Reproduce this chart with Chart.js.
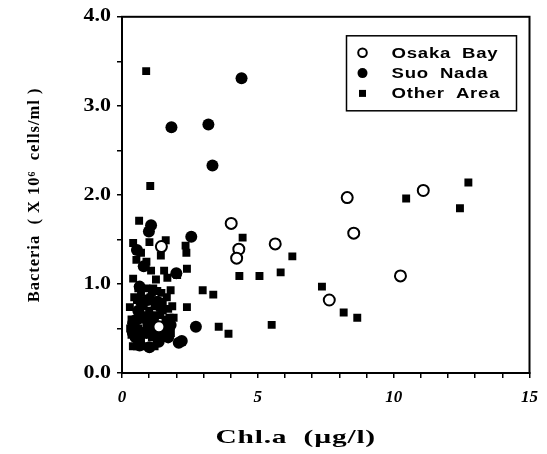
<!DOCTYPE html>
<html><head><meta charset="utf-8">
<script src="https://cdn.jsdelivr.net/npm/chart.js"></script>
<style>html,body{margin:0;padding:0;background:#fff}#wrap{width:547px;height:454px}</style>
</head><body><div id="wrap"><canvas id="c" width="547" height="454"></canvas></div>
<script>
// ---- data ----
const osakaX = [1.45, 4.02, 4.30, 4.22, 5.64, 8.29, 8.53, 11.09, 10.25, 7.63, 1.36];
const osakaY = [1.42, 1.68, 1.39, 1.29, 1.45, 1.97, 1.57, 2.05, 1.09, 0.82, 0.52];

const suoX = [1.82, 3.18, 3.33, 4.40, 2.55, 1.07, 0.99, 0.65, 2.72, 2.09, 2.20, 0.41, 0.65, 1.01, 1.49, 1.79, 0.60, 0.85, 1.05, 1.30, 1.15, 0.75, 1.35, 0.95, 1.60, 0.50, 0.55, 2.00, 0.80, 0.40, 0.70, 1.10, 1.40, 1.70, 0.90, 1.25, 0.55];
const suoY = [2.76, 2.79, 2.33, 3.31, 1.53, 1.66, 1.59, 0.97, 0.52, 0.34, 0.36, 0.56, 0.31, 0.29, 0.41, 0.54, 0.70, 0.62, 0.48, 0.80, 0.62, 0.45, 0.35, 0.82, 0.50, 0.40, 1.38, 1.12, 1.20, 0.45, 0.80, 0.55, 0.75, 0.40, 0.45, 0.42, 0.60];

const otherX = [0.89, 1.04, 12.75, 10.46, 12.44, 7.36, 8.16, 8.66, 4.44, 6.27, 4.32, 5.06, 5.84, 5.51, 2.97, 3.36, 2.39, 3.56, 3.92, 0.63, 0.41, 1.01, 1.61, 1.43, 0.53, 1.07, 1.55, 1.67, 2.03, 2.39, 0.41, 2.34, 2.37, 0.70, 0.90, 1.25, 0.29, 0.35, 0.70, 0.90, 1.10, 1.30, 1.79, 0.50, 0.80, 1.00, 1.20, 1.50, 1.70, 0.60, 0.90, 1.20, 1.60, 0.70, 1.10, 0.40, 1.80, 0.55, 1.40, 1.90, 0.45, 0.75, 1.05, 1.25, 1.45, 1.65, 0.35, 0.55, 0.85, 1.20, 1.50, 1.75, 0.60, 1.15, 0.95, 1.35, 0.30, 1.85];
const otherY = [3.39, 2.10, 2.14, 1.96, 1.85, 0.97, 0.68, 0.62, 1.52, 1.31, 1.09, 1.09, 1.13, 0.54, 0.93, 0.88, 0.74, 0.52, 0.44, 1.71, 1.46, 1.47, 1.49, 1.32, 1.27, 1.15, 1.15, 1.07, 1.10, 1.17, 1.06, 1.43, 1.35, 1.35, 1.25, 1.05, 0.74, 0.43, 0.90, 0.95, 0.90, 0.92, 0.93, 0.60, 0.75, 0.70, 0.75, 0.80, 0.72, 0.50, 0.55, 0.55, 0.60, 0.35, 0.40, 0.30, 0.45, 0.82, 0.65, 0.62, 0.85, 0.60, 0.85, 0.65, 0.90, 0.85, 0.60, 0.30, 0.30, 0.30, 0.70, 0.62, 0.95, 0.95, 0.65, 0.50, 0.50, 0.75];

const xTickLabels = ['0', '5', '10', '15'];
const yTickLabels = ['0.0', '1.0', '2.0', '3.0', '4.0'];
const seriesNames = ['Osaka Bay', 'Suo Nada', 'Other Area'];
const xTitle = 'Chl.a  (\u00B5g/l)';
const yTitle = 'Bacteria  ( X 10\u2076  cells/ml )';

const toPts = (xs, ys) => xs.map((x, i) => ({x: x, y: ys[i]}));
const SERIF = '"Liberation Serif", "Times New Roman", serif';

// Draw a scale's text a little wider (the reference uses a wide bold face).
function widen(scale, method, k, pivot, dx, spacing) {
  if (scale['_w_' + method]) return;
  const orig = scale[method];
  scale[method] = function (arg) {
    const c = this.ctx;
    c.save();
    const p = pivot(this);
    c.translate(p + dx, 0);
    c.scale(k, 1);
    c.translate(-p, 0);
    c.letterSpacing = spacing;
    orig.call(this, arg);
    c.restore();
  };
  scale['_w_' + method] = true;
}

const framePlugin = {
  id: 'frame',
  afterDraw(chart) {
    const {ctx, chartArea: a} = chart;
    ctx.save();
    ctx.strokeStyle = '#000';
    ctx.lineWidth = 2;
    ctx.strokeRect(a.left, a.top, a.right - a.left, a.bottom - a.top);
    ctx.restore();
  }
};

const boxLegend = {
  id: 'boxLegend',
  afterDraw(chart) {
    const {ctx, chartArea: a} = chart;
    const w = 170, h = 75, x0 = a.right - 13 - w, y0 = a.top + 19;
    ctx.save();
    ctx.fillStyle = '#fff';
    ctx.fillRect(x0, y0, w, h);
    ctx.lineWidth = 1.5;
    ctx.strokeStyle = '#000';
    ctx.strokeRect(x0, y0, w, h);
    chart.data.datasets.forEach((ds, i) => {
      const cy = y0 + 17 + i * 20.3, cx = x0 + 16;
      ctx.fillStyle = '#000';
      ctx.strokeStyle = '#000';
      if (ds.pointStyle === 'rect') {
        ctx.fillRect(cx - 3.5, cy - 3.5, 7, 7);
      } else if (ds.pointBackgroundColor === '#fff') {
        ctx.beginPath(); ctx.lineWidth = 2; ctx.arc(cx, cy, 4.3, 0, Math.PI * 2); ctx.stroke();
      } else {
        ctx.beginPath(); ctx.arc(cx, cy, 5, 0, Math.PI * 2); ctx.fill();
      }
      const tx = x0 + 45;
      ctx.save();
      ctx.translate(tx, 0);
      ctx.scale(1.28, 1);
      ctx.font = 'bold 14.5px "Liberation Sans", Arial, sans-serif';
      ctx.letterSpacing = '0.6px';
      ctx.wordSpacing = '4px';
      ctx.textBaseline = 'middle';
      ctx.textAlign = 'left';
      ctx.fillText(ds.label, 0, cy + 1);
      ctx.restore();
    });
    ctx.restore();
  }
};

new Chart(document.getElementById('c'), {
  type: 'scatter',
  data: {
    datasets: [
      {label: seriesNames[0], data: toPts(osakaX, osakaY), pointStyle: 'circle', pointRadius: 5.5,
       pointBackgroundColor: '#fff', pointBorderColor: '#000', pointBorderWidth: 2},
      {label: seriesNames[1], data: toPts(suoX, suoY), pointStyle: 'circle', pointRadius: 6,
       pointBackgroundColor: '#000', pointBorderColor: '#000', pointBorderWidth: 0},
      {label: seriesNames[2], data: toPts(otherX, otherY), pointStyle: 'rect', pointRadius: 5.6,
       pointBackgroundColor: '#000', pointBorderColor: '#000', pointBorderWidth: 0}
    ]
  },
  options: {
    responsive: false,
    animation: false,
    devicePixelRatio: 1,
    layout: {padding: {top: 16, right: 10, left: 0, bottom: 0}},
    plugins: {legend: {display: false}, tooltip: {enabled: false}},
    scales: {
      x: {
        type: 'linear', min: 0, max: 15,
        afterFit(s) {
          s.height = 81;
          widen(s, 'drawTitle', 1.55, t => (t.left + t.right) / 2, -30, '0.5px');
        },
        ticks: {
          stepSize: 1, autoSkip: false, maxRotation: 0, color: '#000', padding: 9,
          font: {family: SERIF, size: 17, weight: 'bold', style: 'italic'},
          callback: v => (Math.round(v) % 5 === 0 ? xTickLabels[Math.round(v) / 5] : '')
        },
        grid: {drawOnChartArea: false, drawTicks: true, tickLength: 5, color: '#000', lineWidth: 1.5},
        border: {display: true, color: '#000', width: 2},
        title: {display: true, text: xTitle, color: '#000',
                font: {family: SERIF, size: 19, weight: 'bold'}, padding: {top: 5, bottom: 5}}
      },
      y: {
        type: 'linear', min: 0, max: 4,
        afterFit(s) {
          s.width = 122;
          widen(s, 'drawLabels', 1.22, t => t.right - 11, 0, '0px');
          widen(s, 'drawTitle', 1.0, t => t.left, 0, '1px');
        },
        ticks: {
          stepSize: 0.5, autoSkip: false, color: '#000', padding: 6,
          font: {family: SERIF, size: 18, weight: 'bold'},
          callback: v => (Math.abs(v - Math.round(v)) < 1e-6 ? yTickLabels[Math.round(v)] : '')
        },
        grid: {drawOnChartArea: false, drawTicks: true, tickLength: 5, color: '#000', lineWidth: 1.5},
        border: {display: true, color: '#000', width: 2},
        title: {display: true, text: yTitle, color: '#000',
                font: {family: SERIF, size: 16.5, weight: 'bold'}, padding: {top: 25, bottom: 25}}
      }
    }
  },
  plugins: [framePlugin, boxLegend]
});
</script>
</body></html>
